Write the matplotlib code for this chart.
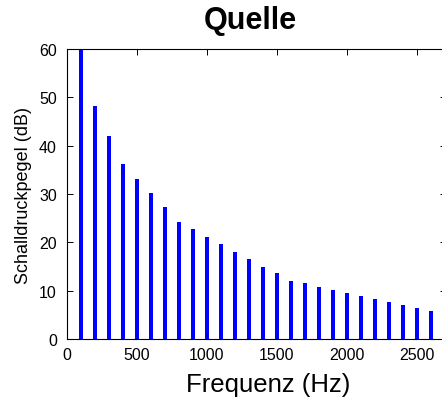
import matplotlib
matplotlib.use("Agg")
import matplotlib.pyplot as plt

plt.rcParams['font.family'] = ['Liberation Sans', 'DejaVu Sans']

freq = [100, 200, 300, 400, 500, 600, 700, 800, 900, 1000, 1100, 1200, 1300,
        1400, 1500, 1600, 1700, 1800, 1900, 2000, 2100, 2200, 2300, 2400, 2500, 2600]
level = [60, 48.2, 42.1, 36.2, 33.1, 30.2, 27.3, 24.2, 22.8, 21.2, 19.6, 18.1, 16.6,
         15.0, 13.7, 12.1, 11.5, 10.8, 10.2, 9.6, 9.0, 8.3, 7.6, 7.0, 6.5, 5.7]
xticks = [0, 500, 1000, 1500, 2000, 2500]
yticks = [0, 10, 20, 30, 40, 50, 60]

fig = plt.figure(figsize=(4.42, 4.02), dpi=100)
# right spine sits just outside the picture, as in the reference
ax = fig.add_axes([66.7/442, 62/402, (446-66.7)/442, 290/402])
ax.bar(freq, level, width=28, color='#0000ff', linewidth=0)
ax.set_xlim(0, 2710)
ax.set_ylim(0, 60)
ax.set_xticks(xticks)
ax.set_yticks(yticks)
ax.tick_params(direction='in', top=True, right=True, labelsize=11.5, length=4, width=0.7)
ax.tick_params(axis='x', pad=6)
ax.tick_params(axis='y', pad=7)
for s in ax.spines.values():
    s.set_linewidth(0.8)
ax.set_xlabel('Frequenz (Hz)', fontsize=18.5, labelpad=7)
ax.xaxis.label.set_x(0.531)
ax.set_ylabel('Schalldruckpegel (dB)', fontsize=13, labelpad=5)
ax.set_title('Quelle', fontsize=22, fontweight='bold', pad=15, x=0.483)
fig.savefig('out.png', dpi=100)
